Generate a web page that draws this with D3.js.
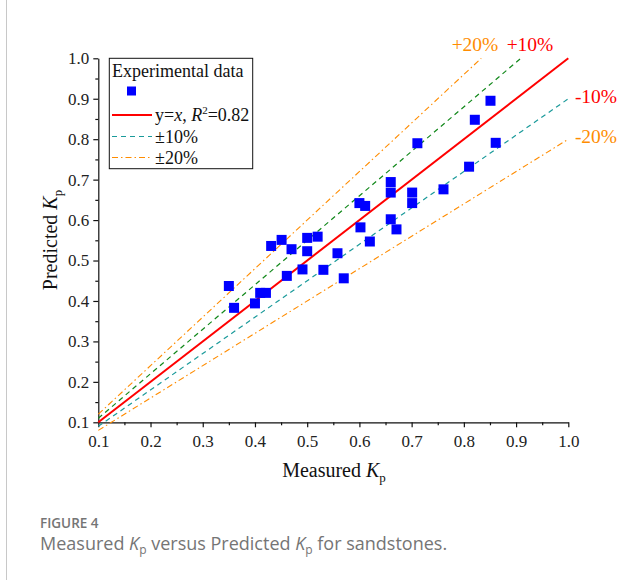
<!DOCTYPE html>
<html>
<head>
<meta charset="utf-8">
<script src="https://cdn.jsdelivr.net/npm/d3@7"></script>
<style>
body{margin:0;background:#fff;}
</style>
</head>
<body>
<svg id="chart" width="641" height="580"></svg>
<script>
// measured vs predicted Kp
var measured = [0.350,0.360,0.400,0.410,0.421,0.431,0.451,0.461,0.470,0.491,0.500,0.500,0.520,0.531,0.558,0.570,
	0.600,0.611,0.602,0.620,0.660,0.660,0.660,0.671,0.701,0.701,0.711,0.761,0.810,0.821,0.851,0.861];
var predicted = [0.437,0.383,0.394,0.420,0.420,0.536,0.551,0.462,0.528,0.478,0.556,0.523,0.559,0.477,0.518,0.456,
	0.642,0.635,0.582,0.547,0.694,0.668,0.602,0.577,0.668,0.642,0.790,0.676,0.732,0.848,0.895,0.791];
var xTicks = [0.1,0.2,0.3,0.4,0.5,0.6,0.7,0.8,0.9,1.0];
var yTicks = [0.1,0.2,0.3,0.4,0.5,0.6,0.7,0.8,0.9,1.0];
var bandFactors = [1.2,1.1,1.0,0.9,0.8];
var bandLabels = ['+20%','+10%','','-10%','-20%'];

var SERIF = '"Liberation Serif","Times New Roman",serif';
var SANS = '"Open Sans","Noto Sans",sans-serif';

var svg = d3.select('#chart');
var x = d3.scaleLinear().domain([0.1,1.0]).range([98.3,568.3]);
var y = d3.scaleLinear().domain([0.1,1.0]).range([422.3,58.3]);

// left frame line of the figure panel
svg.append('line').attr('x1',6.5).attr('x2',6.5).attr('y1',0).attr('y2',580)
	.attr('stroke','#c8c8c8').attr('stroke-width',1);

var minor = d3.range(0.15,1.0,0.1);

// axes
var gX = svg.append('g').attr('transform','translate(0,'+y(0.1)+')')
	.call(d3.axisBottom(x).tickValues(xTicks).tickFormat(d3.format('.1f')).tickSize(5).tickSizeOuter(0));
var gY = svg.append('g').attr('transform','translate('+x(0.1)+',0)')
	.call(d3.axisLeft(y).tickValues(yTicks).tickFormat(d3.format('.1f')).tickSize(5).tickSizeOuter(0));
var mX = svg.append('g').attr('transform','translate(0,'+y(0.1)+')')
	.call(d3.axisBottom(x).tickValues(minor).tickFormat('').tickSize(3).tickSizeOuter(0));
var mY = svg.append('g').attr('transform','translate('+x(0.1)+',0)')
	.call(d3.axisLeft(y).tickValues(minor).tickFormat('').tickSize(3).tickSizeOuter(0));
[mX,mY].forEach(function(g){
	g.select('.domain').remove();
	g.selectAll('line').attr('stroke','#111').attr('stroke-width',1.2);
});
[gX,gY].forEach(function(g){
	g.attr('font-family',SERIF).attr('font-size',17);
	g.selectAll('text').attr('fill','#222');
	g.selectAll('line,path').attr('stroke','#111').attr('stroke-width',1.2);
});
gX.selectAll('text').attr('dy','1.0em');
gY.selectAll('text').attr('x',-9);

// reference lines
var lineStyle = {
	'1.2':{c:'#ff8c00',dash:'6,3,1.5,3',w:1.1},
	'1.1':{c:'#11881a',dash:'5,4',w:1.2},
	'1':{c:'#ff0000',dash:null,w:2},
	'0.9':{c:'#1a9a9a',dash:'5,4',w:1.2},
	'0.8':{c:'#ff8c00',dash:'6,3,1.5,3',w:1.1}
};
bandFactors.forEach(function(f){
	var st = lineStyle[String(f)];
	var xEnd = Math.min(1.0, 1.0/f);
	var l = svg.append('line')
		.attr('x1',x(0.1)).attr('y1',y(0.1*f))
		.attr('x2',x(xEnd)).attr('y2',y(xEnd*f))
		.attr('stroke',st.c).attr('stroke-width',st.w);
	if(st.dash) l.attr('stroke-dasharray',st.dash);
});

// points
svg.append('g').selectAll('rect').data(measured).enter().append('rect')
	.attr('x',function(d){return x(d)-5;})
	.attr('y',function(d,i){return y(predicted[i])-5;})
	.attr('width',10).attr('height',10)
	.attr('fill','#0000ff');

// band labels
var labelPos = [[475,51,'#ff8c00'],[530,51,'#ff0000'],null,[596,103,'#ff0000'],[596,143,'#ff8c00']];
bandLabels.forEach(function(t,i){
	if(!t) return;
	svg.append('text').attr('x',labelPos[i][0]).attr('y',labelPos[i][1])
		.attr('text-anchor','middle').attr('font-family',SERIF).attr('font-size',19.5)
		.attr('fill',labelPos[i][2]).text(t);
});

// legend
var lg = svg.append('g').attr('font-family',SERIF).attr('font-size',18).attr('fill','#111');
lg.append('rect').attr('x',109.3).attr('y',58.3).attr('width',143.4).attr('height',110.4)
	.attr('fill','#fff').attr('stroke','#111').attr('stroke-width',1);
lg.append('text').attr('x',112).attr('y',77).text('Experimental data');
lg.append('rect').attr('x',127).attr('y',86.5).attr('width',9).attr('height',9).attr('fill','#0000ff');
var legItems = [
	{y:115,c:'#ff0000',dash:null,w:2},
	{y:136.5,c:'#1a9a9a',dash:'5,4',w:1.2},
	{y:157.5,c:'#ff8c00',dash:'6,3,1.5,3',w:1.1}
];
legItems.forEach(function(it){
	var l = lg.append('line').attr('x1',112).attr('x2',152).attr('y1',it.y).attr('y2',it.y)
		.attr('stroke',it.c).attr('stroke-width',it.w);
	if(it.dash) l.attr('stroke-dasharray',it.dash);
});
var t1 = lg.append('text').attr('x',155).attr('y',121);
t1.append('tspan').text('y=');
t1.append('tspan').attr('font-style','italic').text('x');
t1.append('tspan').text(', ');
t1.append('tspan').attr('font-style','italic').text('R');
t1.append('tspan').attr('font-size',11).attr('dy',-7).text('2');
t1.append('tspan').attr('dy',7).text('=0.82');
lg.append('text').attr('x',155).attr('y',142.5).text('\u00b110%');
lg.append('text').attr('x',155).attr('y',163.5).text('\u00b120%');

// axis titles
var xt = svg.append('text').attr('x',334).attr('y',477).attr('text-anchor','middle')
	.attr('font-family',SERIF).attr('font-size',20).attr('fill','#111');
xt.append('tspan').text('Measured ');
xt.append('tspan').attr('font-style','italic').text('K');
xt.append('tspan').attr('font-size',13).attr('dy',5).text('p');

var yt = svg.append('text').attr('transform','translate(57,240) rotate(-90)').attr('text-anchor','middle')
	.attr('font-family',SERIF).attr('font-size',20).attr('fill','#111');
yt.append('tspan').text('Predicted ');
yt.append('tspan').attr('font-style','italic').text('K');
yt.append('tspan').attr('font-size',13).attr('dy',5).text('p');

// caption
svg.append('text').attr('x',40).attr('y',528).attr('font-family',SANS).attr('font-size',13.5)
	.attr('fill','#757575').attr('font-weight',600).text('FIGURE 4');
var cp = svg.append('text').attr('x',40).attr('y',550).attr('font-family',SANS).attr('font-size',18)
	.attr('fill','#757575');
cp.append('tspan').text('Measured ');
cp.append('tspan').attr('font-style','italic').text('K');
cp.append('tspan').attr('font-size',12).attr('dy',4).text('p');
cp.append('tspan').attr('dy',-4).text(' versus Predicted ');
cp.append('tspan').attr('font-style','italic').text('K');
cp.append('tspan').attr('font-size',12).attr('dy',4).text('p');
cp.append('tspan').attr('dy',-4).text(' for sandstones.');
</script>
</body>
</html>
